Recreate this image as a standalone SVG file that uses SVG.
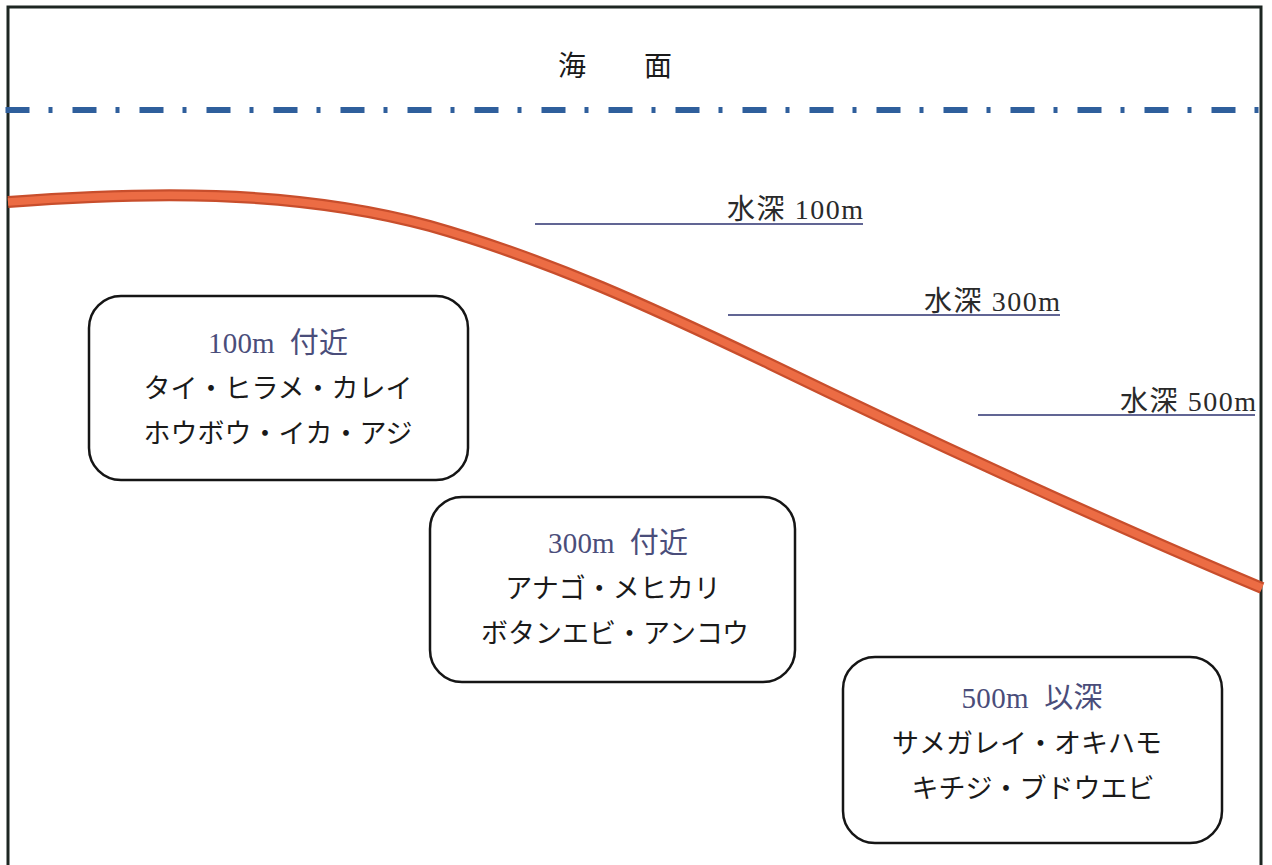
<svg xmlns="http://www.w3.org/2000/svg" width="1272" height="865" viewBox="0 0 1272 865">
<style>
.frame{fill:none;stroke:#1d2622;stroke-width:3}
.sea{fill:none;stroke:#2f5f9c;stroke-width:6;stroke-dasharray:24 19 4 20}
.depthline{fill:none;stroke:#2c3270;stroke-width:1.6}
.depthtxt{font-family:"Liberation Serif","Noto Sans CJK JP",serif;font-size:28px;fill:#2a2a2a}
.box{fill:#ffffff;stroke:#151515;stroke-width:2.5}
.title{font-family:"Liberation Serif","Noto Sans CJK JP",serif;font-size:29px;fill:#4a4d7a;text-anchor:middle;white-space:pre}
.body{font-family:"Noto Sans CJK JP",sans-serif;font-size:27px;fill:#1a1a1a;text-anchor:middle;font-weight:400}
.seatxt{font-family:"Noto Sans CJK JP",sans-serif;font-size:28px;fill:#1a1a1a}
</style>
<rect x="0" y="0" width="1272" height="865" fill="#ffffff"/>
<path class="frame" d="M8 866 L8 7 L1261 7 L1261 866"/>
<g id="sea-surface">
<text class="seatxt" x="558" y="76" letter-spacing="58">海面</text>
<line class="sea" x1="5.5" y1="110" x2="1262" y2="110"/>
</g>
<g id="connectors">
<path d="M8 202 C140 192 290 188 430 226 C550 260 655 309 770 364 C910 432 1100 520 1262 588" fill="none" stroke="#c84e2c" stroke-width="12"/>
<path d="M8 202 C140 192 290 188 430 226 C550 260 655 309 770 364 C910 432 1100 520 1262 588" fill="none" stroke="#ec6c44" stroke-width="7.5"/>
</g>
<g id="depth-100">
<line class="depthline" x1="535" y1="224" x2="863" y2="224"/>
<text class="depthtxt" x="727" y="219" textLength="136" lengthAdjust="spacing">水深 100m</text>
</g>
<g id="depth-300">
<line class="depthline" x1="728" y1="315" x2="1060" y2="315"/>
<text class="depthtxt" x="924" y="311" textLength="136" lengthAdjust="spacing">水深 300m</text>
</g>
<g id="depth-500">
<line class="depthline" x1="978" y1="415" x2="1255" y2="415"/>
<text class="depthtxt" x="1120" y="411" textLength="136" lengthAdjust="spacing">水深 500m</text>
</g>
<g id="box-100">
<rect class="box" x="89" y="296" width="379" height="184" rx="32"/>
<text class="title" x="278" y="353" xml:space="preserve" textLength="140" lengthAdjust="spacing">100m  付近</text>
<text class="body" x="278" y="398">タイ・ヒラメ・カレイ</text>
<text class="body" x="278" y="443">ホウボウ・イカ・アジ</text>
</g>
<g id="box-300">
<rect class="box" x="430" y="497" width="365" height="185" rx="32"/>
<text class="title" x="618" y="553" xml:space="preserve" textLength="140" lengthAdjust="spacing">300m  付近</text>
<text class="body" x="613" y="598">アナゴ・メヒカリ</text>
<text class="body" x="615" y="643">ボタンエビ・アンコウ</text>
</g>
<g id="box-500">
<rect class="box" x="843" y="657" width="379" height="186" rx="32"/>
<text class="title" x="1032" y="708" xml:space="preserve" textLength="141" lengthAdjust="spacing">500m  以深</text>
<text class="body" x="1027" y="753">サメガレイ・オキハモ</text>
<text class="body" x="1033" y="798">キチジ・ブドウエビ</text>
</g>
</svg>
